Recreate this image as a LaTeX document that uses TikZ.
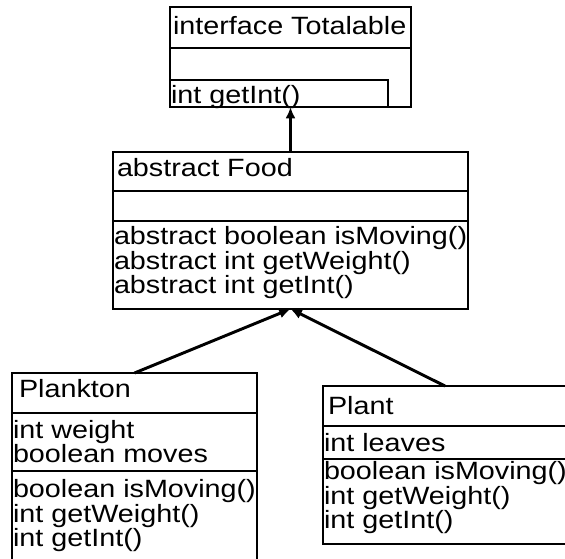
\documentclass[tikz,border=0pt]{standalone}
\usepackage{fontspec}
\setmainfont[FakeStretch=1.15]{Liberation Sans}
\usetikzlibrary{arrows.meta}

\tikzset{every picture/.style={line width=1.5pt}}
\tikzset{
  classbox/.style={draw, rectangle, anchor=north west, inner sep=0pt, outer sep=0pt},
  member/.style={anchor=base west, inner sep=0pt, align=left, font=\fontsize{18.75}{18.4}\selectfont},
  inherit/.style={-{Latex[length=8.5pt,width=7.5pt]}, line width=2.2pt}
}

\begin{document}
\begin{tikzpicture}[x=0.75pt,y=0.75pt,yscale=-1,xscale=1]
\useasboundingbox (0,0) rectangle (565,559);

%Shape: Rectangle [interface Totalable]
\node [classbox, minimum width=180.75pt, minimum height=75pt] (totalable) at (170,7) {};
\draw    (170,48) -- (411,48) ;
\draw    (170,80) rectangle (388,107) ;
%Shape: Rectangle [abstract Food]
\node [classbox, minimum width=266.25pt, minimum height=117.75pt] (food) at (113,152) {};
\draw    (113,191) -- (468,191) ;
\draw    (113,221) -- (468,221) ;
%Shape: Rectangle [Plankton]
\node [classbox, minimum width=183.75pt, minimum height=142.5pt] (plankton) at (12,373) {};
\draw    (12,413) -- (257,413) ;
\draw    (12,471) -- (257,471) ;
%Shape: Rectangle [Plant] (runs past the right edge)
\node [classbox, minimum width=183pt, minimum height=118.5pt] (plant) at (323,386) {};
\draw    (323,426) -- (567,426) ;
\draw    (323,459) -- (567,459) ;

%Arrows
\draw [inherit]  (food.north) -- (totalable.south) ;
\draw [inherit]  (plankton.north) -- (food.south) ;
\draw [inherit]  (plant.north) -- (food.south) ;

% Text Node (multi-line nodes sit on their last baseline)
\node [member] (totalable-name) at (172,35) {interface Totalable};
% Text Node
\node [member] (totalable-ops) at (170,104) {int getInt()};
% Text Node
\node [member] (food-name) at (116,177) {abstract Food};
% Text Node
\node [member] (food-ops) at (113,294) {abstract boolean isMoving()\\abstract int getWeight()\\abstract int getInt()};
% Text Node
\node [member] (plankton-name) at (18,398) {Plankton};
% Text Node
\node [member] (plankton-attrs) at (12,463) {int weight\\boolean moves};
% Text Node
\node [member] (plankton-ops) at (12,547) {boolean isMoving()\\int getWeight()\\int getInt()};
% Text Node
\node [member] (plant-name) at (327,415) {Plant};
% Text Node
\node [member] (plant-attrs) at (323,452) {int leaves};
% Text Node
\node [member] (plant-ops) at (323,529) {boolean isMoving()\\int getWeight()\\int getInt()};

\end{tikzpicture}
\end{document}
